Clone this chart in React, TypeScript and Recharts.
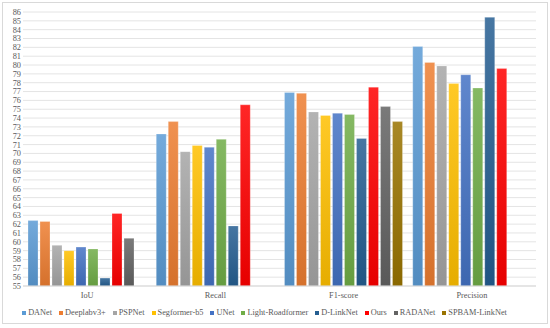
import { BarChart, Bar, XAxis, YAxis, CartesianGrid, Legend } from "recharts";

const CATEGORIES = ["IoU", "Recall", "F1-score", "Precision"];

// null = model not reported for that metric
const DANET = [62.4, 72.2, 76.9, 82.1];
const DEEPLABV3 = [62.3, 73.6, 76.8, 80.3];
const PSPNET = [59.6, 70.2, 74.7, 79.9];
const SEGFORMER = [59.0, 70.9, 74.3, 77.9];
const UNET = [59.4, 70.7, 74.55, 78.9];
const LIGHT_ROADFORMER = [59.2, 71.6, 74.4, 77.4];
const DLINKNET = [55.9, 61.8, 71.7, 85.4];
const OURS = [63.2, 75.5, 77.5, 79.6];
const RADANET = [60.4, null, 75.3, null];
const SPBAM_LINKNET = [null, null, 73.6, null];

const Y_TICKS = Array.from({ length: 32 }, (_, i) => 55 + i);

const SERIES = [
  { name: "DANet", values: DANET },
  { name: "Deeplabv3+", values: DEEPLABV3 },
  { name: "PSPNet", values: PSPNET },
  { name: "Segformer-b5", values: SEGFORMER },
  { name: "UNet", values: UNET },
  { name: "Light-Roadformer", values: LIGHT_ROADFORMER },
  { name: "D-LinkNet", values: DLINKNET },
  { name: "Ours", values: OURS },
  { name: "RADANet", values: RADANET },
  { name: "SPBAM-LinkNet", values: SPBAM_LINKNET },
];

const COLORS: Record<string, string> = {
  DANet: "#5B9BD5",
  "Deeplabv3+": "#ED7D31",
  PSPNet: "#A5A5A5",
  "Segformer-b5": "#FFC000",
  UNet: "#4472C4",
  "Light-Roadformer": "#70AD47",
  "D-LinkNet": "#255E91",
  Ours: "#FF0000",
  RADANET: "#636363",
  RADANet: "#636363",
  "SPBAM-LinkNet": "#997300",
};

const FONT = '"Liberation Serif", "Times New Roman", serif';
const TEXT = "#595959";

function mix(hex: string, target: number, t: number): string {
  const n = parseInt(hex.slice(1), 16);
  const ch = [(n >> 16) & 255, (n >> 8) & 255, n & 255].map((c) =>
    Math.round(c + (target - c) * t)
  );
  return "#" + ch.map((c) => c.toString(16).padStart(2, "0")).join("");
}

const data = CATEGORIES.map((category, i) => {
  const row: Record<string, string | number | null> = { category };
  SERIES.forEach((s) => {
    row[s.name] = s.values[i];
  });
  return row;
});

function gradId(name: string) {
  return "g-" + name.replace(/[^a-zA-Z0-9]/g, "");
}

function LegendContent() {
  return (
    <div
      style={{
        display: "flex",
        justifyContent: "center",
        alignItems: "center",
        paddingTop: 5,
        lineHeight: "11px",
        fontFamily: FONT,
        fontSize: 8.3,
        color: TEXT,
        whiteSpace: "nowrap",
      }}
    >
      {SERIES.map((s) => (
        <span
          key={s.name}
          style={{ display: "inline-flex", alignItems: "center", marginRight: 7 }}
        >
          <span
            style={{
              display: "inline-block",
              width: 4,
              height: 4,
              background: COLORS[s.name],
              marginRight: 2,
            }}
          />
          {s.name}
        </span>
      ))}
    </div>
  );
}

export default function App() {
  return (
    <div
      style={{
        position: "absolute",
        left: 0,
        top: 0,
        width: 550,
        height: 328,
        background: "#fff",
      }}
    >
      <div
        style={{
          position: "absolute",
          left: 2,
          top: 2,
          width: 544,
          height: 320,
          border: "1px solid #D9D9D9",
        }}
      />
      <BarChart
        width={550}
        height={328}
        data={data}
        margin={{ top: 12, right: 14, bottom: 0, left: 0 }}
        barCategoryGap={5}
        barGap={2}
        style={{ position: "absolute", left: 0, top: 0 }}
      >
        <defs>
          {SERIES.map((s) => (
            <linearGradient key={s.name} id={gradId(s.name)} x1="0" y1="0" x2="0" y2="1">
              <stop offset="0%" stopColor={mix(COLORS[s.name], 255, 0.15)} />
              <stop offset="100%" stopColor={mix(COLORS[s.name], 0, 0.1)} />
            </linearGradient>
          ))}
        </defs>
        <CartesianGrid vertical={false} stroke="#E4E4E4" strokeWidth={1} />
        <XAxis
          dataKey="category"
          height={16}
          tickSize={0}
          tickMargin={6}
          axisLine={{ stroke: "#D9D9D9" }}
          tick={{ fill: TEXT, fontSize: 8.3, fontFamily: FONT }}
        />
        <YAxis
          width={23}
          domain={[55, 86]}
          ticks={Y_TICKS}
          interval={0}
          allowDataOverflow
          tickSize={0}
          tickMargin={2}
          axisLine={false}
          tick={{ fill: TEXT, fontSize: 8.3, fontFamily: FONT }}
        />
        <Legend verticalAlign="bottom" height={26} content={() => <LegendContent />} />
        {SERIES.map((s) => (
          <Bar
            key={s.name}
            dataKey={s.name}
            fill={`url(#${gradId(s.name)})`}
            stroke="rgba(255,255,255,0.5)"
            strokeWidth={0.5}
            isAnimationActive={false}
          />
        ))}
      </BarChart>
    </div>
  );
}
